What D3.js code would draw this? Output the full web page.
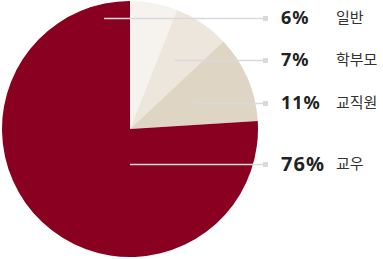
<!DOCTYPE html>
<html>
<head>
<meta charset="utf-8">
<script src="https://cdn.jsdelivr.net/npm/d3@7"></script>
<style>
  body { margin: 0; background: #fff; }
  svg { display: block; }
</style>
</head>
<body>
<div id="chart"></div>
<script>
// pie data (clockwise from 12 o'clock)
var categories = ["일반", "학부모", "교직원", "교우"];
var values = [6, 7, 11, 76];
var colors = ["#f6f3ee", "#ece6dc", "#ded5c4", "#8a0021"];

// legend / leader line layout
var rowY = [18, 60, 103, 164];
var lineStartX = [104, 175, 195, 130];
var pctSize = [18, 18, 18, 20];

var w = 383, h = 259;
var cx = 130, cy = 129, r = 128;

var svg = d3.select("#chart").append("svg")
  .attr("width", w)
  .attr("height", h);

var pie = d3.pie().sort(null).value(function(d) { return d; });
var arc = d3.arc().innerRadius(0).outerRadius(r);

var g = svg.append("g").attr("transform", "translate(" + cx + "," + cy + ")");
g.selectAll("path")
  .data(pie(values))
  .enter()
  .append("path")
  .attr("d", arc)
  .attr("fill", function(d, i) { return colors[i]; });

// leader lines
var markX = 263;
svg.selectAll("line.lead")
  .data(values)
  .enter()
  .append("line")
  .attr("class", "lead")
  .attr("x1", function(d, i) { return lineStartX[i]; })
  .attr("x2", markX)
  .attr("y1", function(d, i) { return rowY[i] + 0.5; })
  .attr("y2", function(d, i) { return rowY[i] + 0.5; })
  .attr("stroke", "#d9d9dd")
  .attr("stroke-width", 1.5);

svg.selectAll("rect.mark")
  .data(values)
  .enter()
  .append("rect")
  .attr("class", "mark")
  .attr("x", markX)
  .attr("y", function(d, i) { return rowY[i] - 2; })
  .attr("width", 5)
  .attr("height", 5)
  .attr("fill", "#d9d9dd");

// percent labels
var pct = svg.selectAll("text.pct")
  .data(values)
  .enter()
  .append("text")
  .attr("class", "pct")
  .attr("x", 281)
  .attr("y", function(d, i) { return rowY[i]; })
  .attr("dy", "0.36em")
  .attr("font-family", "'Noto Sans', sans-serif")
  .attr("font-weight", "bold")
  .attr("font-size", function(d, i) { return pctSize[i]; })
  .attr("letter-spacing", 1)
  .attr("fill", "#222")
  .text(function(d) { return d + "%"; });

// category names, pushed right if the percent is wide
pct.each(function(d, i) {
  var b = this.getBBox();
  svg.append("text")
    .attr("x", Math.max(336, b.x + b.width + 9))
    .attr("y", rowY[i])
    .attr("dy", "0.36em")
    .attr("font-family", "'Noto Sans CJK KR', sans-serif")
    .attr("font-size", 15)
    .attr("fill", "#333")
    .text(categories[i]);
});
</script>
</body>
</html>
